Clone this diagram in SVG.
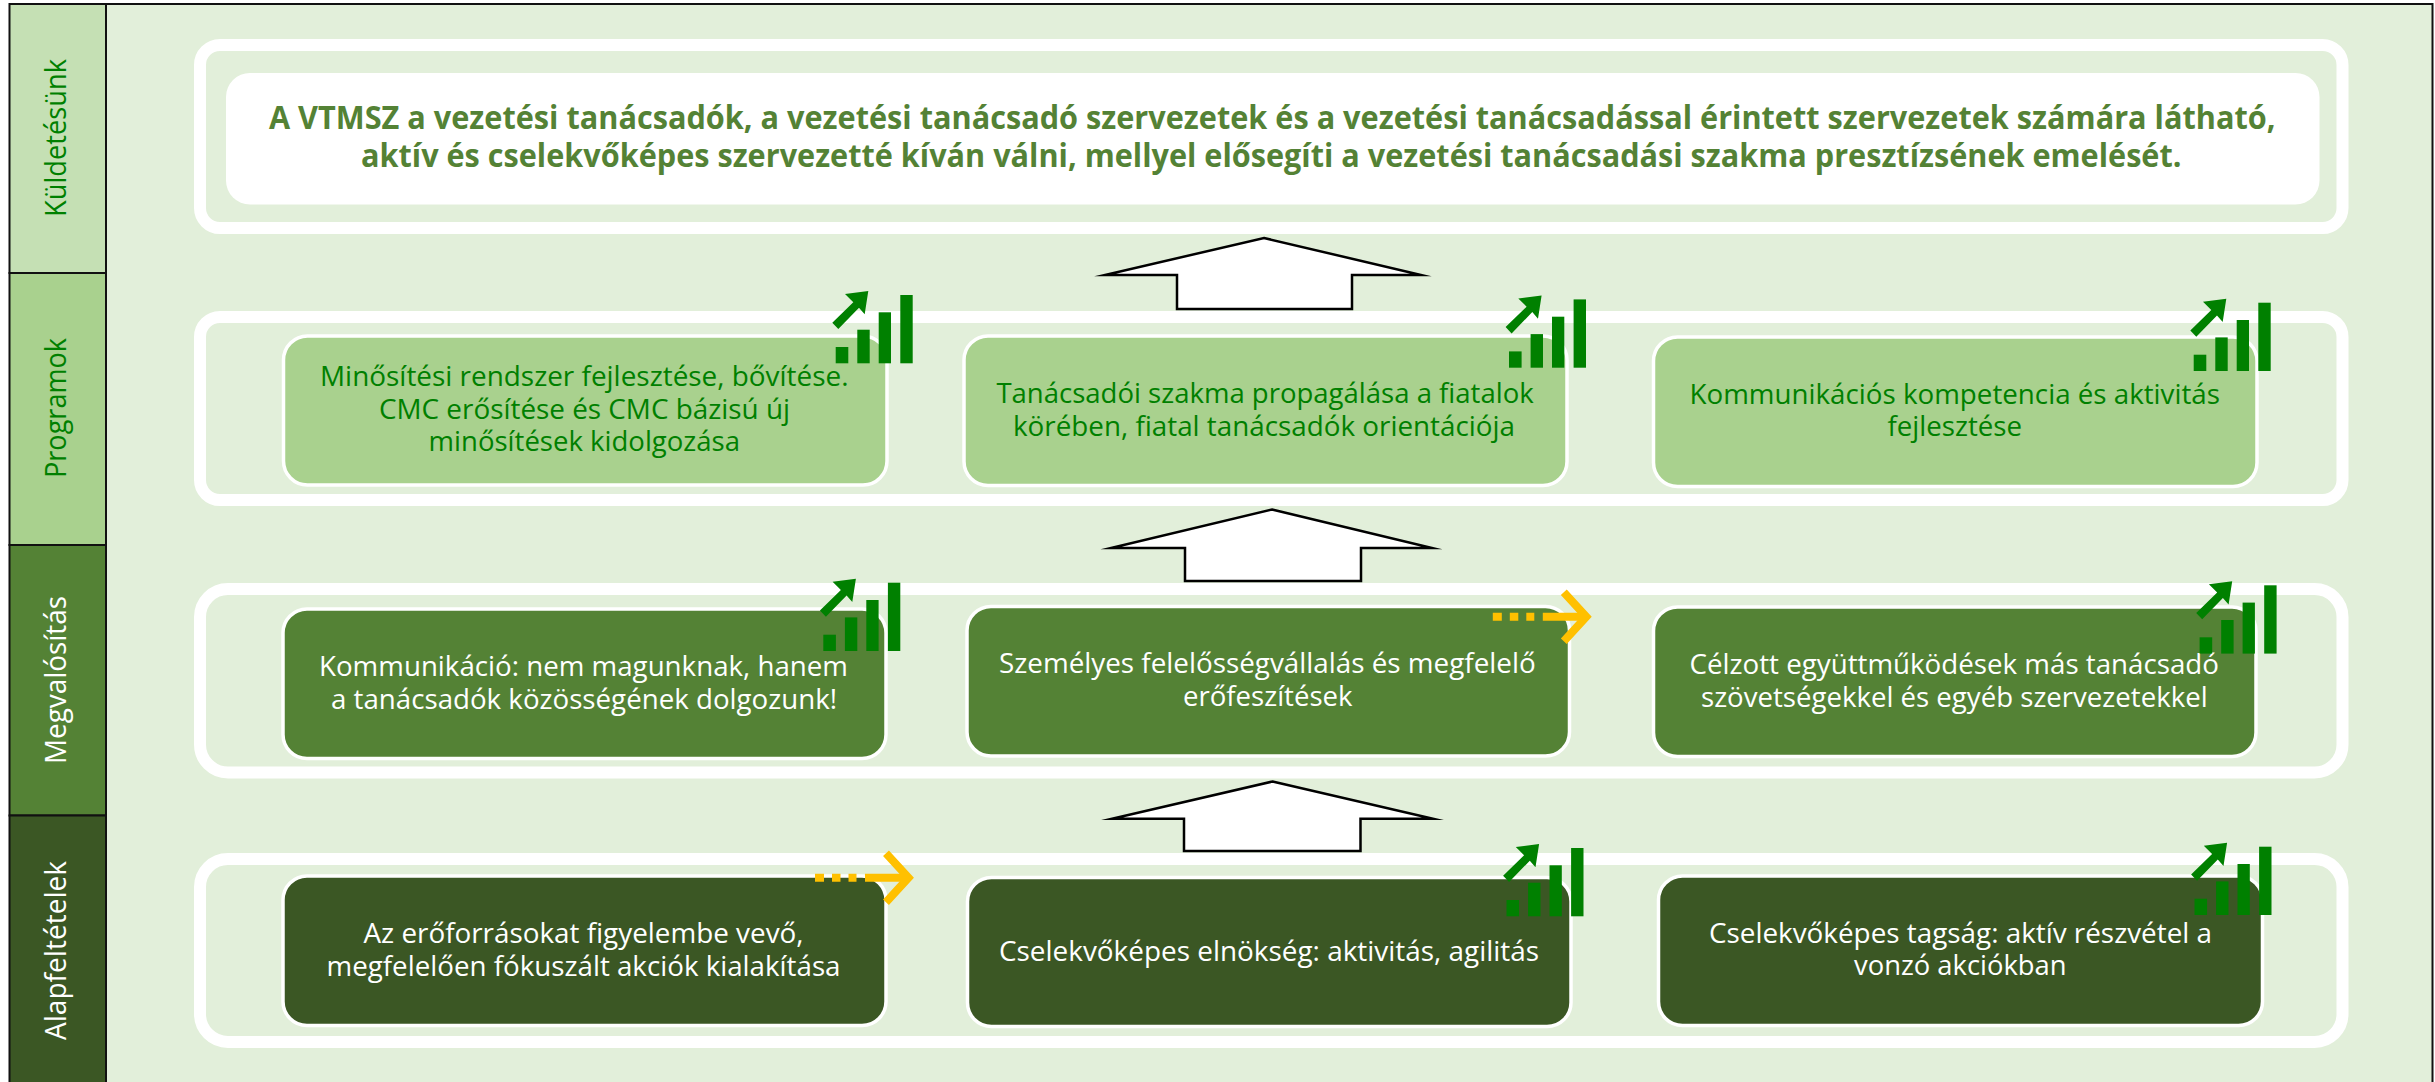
<svg xmlns="http://www.w3.org/2000/svg" xmlns:xlink="http://www.w3.org/1999/xlink" width="2435" height="1082" viewBox="0 0 2435 1082">
<style>
text{font-family:"Open Sans","Noto Sans","Liberation Sans",sans-serif}
.side{font-size:29px}
.t{font-size:28px}
.m{font-size:33px;font-weight:700;fill:#548235}
.g{fill:#008000}
.w{fill:#fff}
.frame{fill:none;stroke:#fff;stroke-width:12}
.box{stroke:#fff;stroke-width:3.500}
.lt{fill:#A9D18E}
.md{fill:#548235}
.dk{fill:#3B5724}
.block{fill:#fff;stroke:#000;stroke-width:2.500;stroke-linejoin:miter;stroke-miterlimit:20}
.cell{stroke:#111;stroke-width:2}
</style>
<defs>
<g id="growth" fill="#008000">
<rect x="0" y="-16.3" width="12.6" height="16.3"/>
<rect x="21.6" y="-33.6" width="12.4" height="33.6"/>
<rect x="43" y="-51" width="12.3" height="51"/>
<rect x="64.6" y="-68.3" width="12.4" height="68.3"/>
<polygon points="32.6,-72.3 9.3,-69.3 17.6,-61 -3.4,-40.6 2.6,-34.3 23.3,-55.6 29,-49"/>
</g>
<g id="steady" fill="none" stroke="#FFC000" stroke-width="8">
<path d="M-98 0H-89M-81 0H-72.5M-64.5 0H-56.5"/>
<path d="M-48 0H-4"/>
<path d="M-27 -24.5L-4.5 0L-27 24.5"/>
</g>
</defs>
<rect id="background" x="106" y="4" width="2326.500" height="1079" fill="#E2EFDA" stroke="#111" stroke-width="2"/>
<g id="cell-kuldetesunk"><rect class="cell" x="9.500" y="4" width="96.500" height="269" fill="#C5E0B4"/><text class="side g" transform="translate(66,217) rotate(-90)" textLength="158" lengthAdjust="spacingAndGlyphs">Küldetésünk</text></g>
<g id="cell-programok"><rect class="cell" x="9.500" y="273" width="96.500" height="272" fill="#A9D18E"/><text class="side g" transform="translate(66,478) rotate(-90)" textLength="140" lengthAdjust="spacingAndGlyphs">Programok</text></g>
<g id="cell-megvalositas"><rect class="cell" x="9.500" y="545" width="96.500" height="270.500" fill="#548235"/><text class="side w" transform="translate(66,764) rotate(-90)" textLength="168" lengthAdjust="spacingAndGlyphs">Megvalósítás</text></g>
<g id="cell-alapfeltetelek"><rect class="cell" x="9.500" y="815.500" width="96.500" height="270" fill="#3B5724"/><text class="side w" transform="translate(66,1040) rotate(-90)" textLength="179" lengthAdjust="spacingAndGlyphs">Alapfeltételek</text></g>
<g id="frames">
<rect class="frame" x="200" y="45" width="2142.500" height="183" rx="20" ry="20"/>
<rect class="frame" x="200" y="317" width="2142.500" height="183" rx="20" ry="20"/>
<rect class="frame" x="200" y="589" width="2142.500" height="183.500" rx="28" ry="28"/>
<rect class="frame" x="200" y="859" width="2142.500" height="183" rx="28" ry="28"/>
</g>
<g id="connectors">
<polygon class="block" points="1264,238 1421,275 1352,275 1352,309 1177,309 1177,275 1105,275"/>
<polygon class="block" points="1272,509.500 1432,548 1361,548 1361,581 1185,581 1185,548 1111,548"/>
<polygon class="block" points="1272.500,781.500 1433,818.700 1360.500,818.700 1360.500,851 1184,851 1184,818.700 1112,818.700"/>
</g>
<g id="mission"><rect x="226" y="73" width="2093.500" height="131.500" rx="24" ry="24" fill="#fff"/>
<text class="m" x="269" y="129.300" textLength="2006.500" lengthAdjust="spacingAndGlyphs">A VTMSZ a vezetési tanácsadók, a vezetési tanácsadó szervezetek és a vezetési tanácsadással érintett szervezetek számára látható,</text>
<text class="m" x="361" y="166.700" textLength="1820.500" lengthAdjust="spacingAndGlyphs">aktív és cselekvőképes szervezetté kíván válni, mellyel elősegíti a vezetési tanácsadási szakma presztízsének emelését.</text></g>
<g id="program-1"><rect class="box lt" x="283.500" y="336" width="603.500" height="149" rx="24"/>
<text class="t g" x="320" y="385.700" textLength="528.500" lengthAdjust="spacingAndGlyphs">Minősítési rendszer fejlesztése, bővítése.</text>
<text class="t g" x="379" y="418.500" textLength="411" lengthAdjust="spacingAndGlyphs">CMC erősítése és CMC bázisú új</text>
<text class="t g" x="428.600" y="451" textLength="311.400" lengthAdjust="spacingAndGlyphs">minősítések kidolgozása</text></g>
<g id="program-2"><rect class="box lt" x="964" y="336" width="603" height="149.500" rx="24"/>
<text class="t g" x="996.400" y="402.500" textLength="537.300" lengthAdjust="spacingAndGlyphs">Tanácsadói szakma propagálása a fiatalok</text>
<text class="t g" x="1013" y="436" textLength="502" lengthAdjust="spacingAndGlyphs">körében, fiatal tanácsadók orientációja</text></g>
<g id="program-3"><rect class="box lt" x="1653.500" y="337" width="603.500" height="149.500" rx="24"/>
<text class="t g" x="1689.500" y="403.600" textLength="530.500" lengthAdjust="spacingAndGlyphs">Kommunikációs kompetencia és aktivitás</text>
<text class="t g" x="1887.500" y="436" textLength="134.500" lengthAdjust="spacingAndGlyphs">fejlesztése</text></g>
<g id="megvalositas-1"><rect class="box md" x="283" y="609" width="603" height="149.500" rx="24"/>
<text class="t w" x="319" y="676" textLength="529" lengthAdjust="spacingAndGlyphs">Kommunikáció: nem magunknak, hanem</text>
<text class="t w" x="331" y="709" textLength="506" lengthAdjust="spacingAndGlyphs">a tanácsadók közösségének dolgozunk!</text></g>
<g id="megvalositas-2"><rect class="box md" x="967" y="606.500" width="602.500" height="149.500" rx="24"/>
<text class="t w" x="999" y="672.500" textLength="536.700" lengthAdjust="spacingAndGlyphs">Személyes felelősségvállalás és megfelelő</text>
<text class="t w" x="1183" y="705.500" textLength="169.500" lengthAdjust="spacingAndGlyphs">erőfeszítések</text></g>
<g id="megvalositas-3"><rect class="box md" x="1653.500" y="607" width="602.500" height="149.500" rx="24"/>
<text class="t w" x="1689.500" y="673.600" textLength="529.500" lengthAdjust="spacingAndGlyphs">Célzott együttműködések más tanácsadó</text>
<text class="t w" x="1701" y="706.600" textLength="506.600" lengthAdjust="spacingAndGlyphs">szövetségekkel és egyéb szervezetekkel</text></g>
<g id="alap-1"><rect class="box dk" x="283" y="876" width="603" height="149.500" rx="24"/>
<text class="t w" x="363.500" y="942.700" textLength="440" lengthAdjust="spacingAndGlyphs">Az erőforrásokat figyelembe vevő,</text>
<text class="t w" x="326.500" y="975.500" textLength="514" lengthAdjust="spacingAndGlyphs">megfelelően fókuszált akciók kialakítása</text></g>
<g id="alap-2"><rect class="box dk" x="967.500" y="877.500" width="603.500" height="149" rx="24"/>
<text class="t w" x="999" y="961" textLength="540" lengthAdjust="spacingAndGlyphs">Cselekvőképes elnökség: aktivitás, agilitás</text></g>
<g id="alap-3"><rect class="box dk" x="1658.500" y="876" width="604" height="149.500" rx="24"/>
<text class="t w" x="1709" y="942.700" textLength="503" lengthAdjust="spacingAndGlyphs">Cselekvőképes tagság: aktív részvétel a</text>
<text class="t w" x="1854" y="975" textLength="212.600" lengthAdjust="spacingAndGlyphs">vonzó akciókban</text></g>
<g id="indicators">
<use xlink:href="#growth" href="#growth" x="835.700" y="363.300"/>
<use xlink:href="#growth" href="#growth" x="1509" y="367.700"/>
<use xlink:href="#growth" href="#growth" x="2193.700" y="371"/>
<use xlink:href="#growth" href="#growth" x="823.300" y="651"/>
<use xlink:href="#growth" href="#growth" x="2199.600" y="653.600"/>
<use xlink:href="#growth" href="#growth" x="1506.500" y="916.300"/>
<use xlink:href="#growth" href="#growth" x="2194.500" y="915"/>
<use xlink:href="#steady" href="#steady" x="1590.800" y="616.700"/>
<use xlink:href="#steady" href="#steady" x="913" y="877.700"/>
</g>
</svg>
